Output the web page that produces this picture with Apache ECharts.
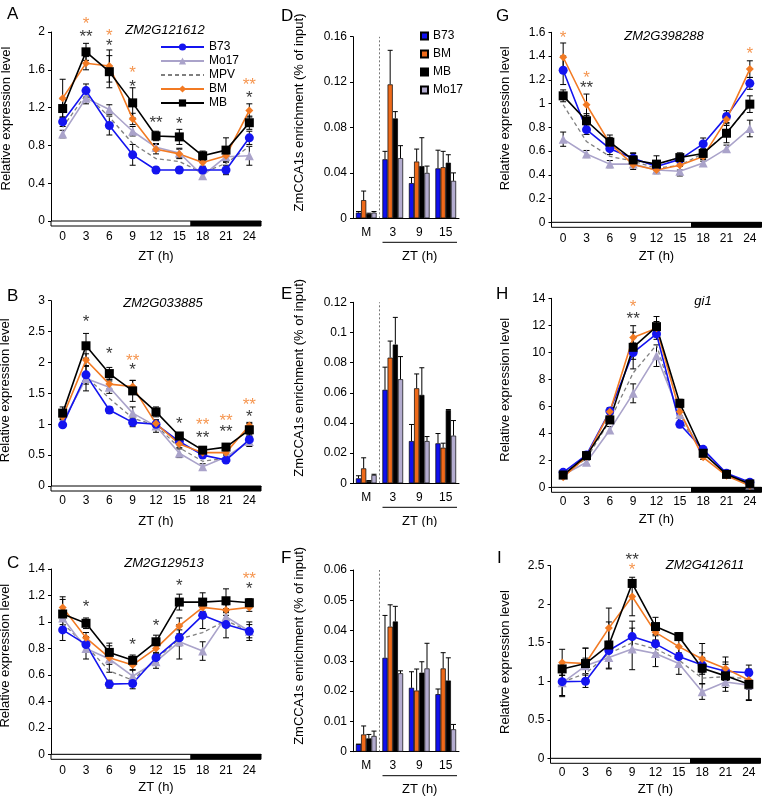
<!DOCTYPE html>
<html>
<head>
<meta charset="utf-8">
<script src="https://cdn.jsdelivr.net/npm/echarts@6/dist/echarts.min.js"></script>
<style>
  body { margin: 0; background: #fff; }
  #wrap { position: relative; width: 764px; height: 797px; }
  .panel { position: absolute; }
</style>
</head>
<body>
<div id="wrap">
  <div class="panel" id="pA" style="left:0;top:0;width:262px;height:265px"></div>
  <div class="panel" id="pB" style="left:0;top:265px;width:262px;height:262px"></div>
  <div class="panel" id="pC" style="left:0;top:527px;width:262px;height:270px"></div>
  <div class="panel" id="pD" style="left:262px;top:0;width:226px;height:265px"></div>
  <div class="panel" id="pE" style="left:262px;top:265px;width:226px;height:262px"></div>
  <div class="panel" id="pF" style="left:262px;top:527px;width:226px;height:270px"></div>
  <div class="panel" id="pG" style="left:488px;top:0;width:276px;height:265px"></div>
  <div class="panel" id="pH" style="left:488px;top:265px;width:276px;height:262px"></div>
  <div class="panel" id="pI" style="left:488px;top:527px;width:276px;height:270px"></div>
</div>
<script>
// ---- data ----
const hours = ['0', '3', '6', '9', '12', '15', '18', '21', '24'];
const chipCats = ['M', '3', '9', '15'];
// light / dark period along ZT (start, end, dark?)
const dayNight = [[-1.5, 16.5, 0], [16.5, 25.5, 1]];

// A  ZM2G121612
const aB73 = [1.05, 1.38, 1.01, 0.70, 0.54, 0.54, 0.54, 0.54, 0.88];
const aB73Err = [0.05, 0.07, 0.10, 0.11, 0.03, 0.03, 0.03, 0.05, 0.07];
const aMo17 = [0.92, 1.30, 1.18, 0.95, 0.78, 0.72, 0.48, 0.68, 0.69];
const aMo17Err = [0.04, 0.06, 0.05, 0.05, 0.04, 0.05, 0.04, 0.05, 0.10];
const aMPV = [0.99, 1.34, 1.10, 0.82, 0.66, 0.63, 0.51, 0.61, 0.79];
const aBM = [1.30, 1.67, 1.64, 1.08, 0.76, 0.71, 0.62, 0.69, 1.17];
const aBMErr = [0.20, 0.07, 0.17, 0.06, 0.05, 0.05, 0.04, 0.05, 0.07];
const aMB = [1.19, 1.79, 1.58, 1.25, 0.90, 0.89, 0.69, 0.75, 1.04];
const aMBErr = [0.10, 0.09, 0.17, 0.16, 0.05, 0.08, 0.05, 0.13, 0.07];
const aStars = [['3', 2.12, '*', 'o'], ['3', 1.99, '**', 'k'], ['6', 2.0, '*', 'o'], ['6', 1.89, '*', 'k'],
  ['9', 1.60, '*', 'o'], ['9', 1.46, '*', 'k'], ['12', 1.08, '**', 'k'], ['15', 1.07, '*', 'k'],
  ['24', 1.48, '**', 'o'], ['24', 1.34, '*', 'k']];

// B  ZM2G033885
const bB73 = [0.99, 1.80, 1.23, 1.03, 1.00, 0.72, 0.50, 0.42, 0.75];
const bB73Err = [0.04, 0.15, 0.05, 0.07, 0.05, 0.05, 0.04, 0.04, 0.08];
const bMo17 = [1.04, 1.74, 1.60, 1.18, 0.97, 0.53, 0.31, 0.47, 0.72];
const bMo17Err = [0.05, 0.20, 0.10, 0.10, 0.10, 0.07, 0.05, 0.05, 0.08];
const bMPV = [1.01, 1.77, 1.42, 1.10, 0.98, 0.62, 0.40, 0.45, 0.73];
const bBM = [1.12, 2.04, 1.65, 1.61, 1.01, 0.68, 0.54, 0.54, 0.98];
const bBMErr = [0.05, 0.10, 0.08, 0.10, 0.06, 0.06, 0.04, 0.04, 0.05];
const bMB = [1.18, 2.27, 1.82, 1.54, 1.20, 0.81, 0.58, 0.63, 0.91];
const bMBErr = [0.10, 0.20, 0.10, 0.17, 0.08, 0.05, 0.05, 0.05, 0.10];
const bStars = [['3', 2.71, '*', 'k'], ['6', 2.2, '*', 'k'], ['9', 2.09, '**', 'o'], ['9', 1.93, '*', 'k'],
  ['15', 1.07, '*', 'k'], ['18', 1.04, '**', 'o'], ['18', 0.84, '**', 'k'], ['21', 1.12, '**', 'o'],
  ['21', 0.93, '**', 'k'], ['24', 1.37, '**', 'o'], ['24', 1.18, '*', 'k']];

// C  ZM2G129513
const cB73 = [0.94, 0.83, 0.53, 0.535, 0.73, 0.88, 1.05, 0.98, 0.93];
const cB73Err = [0.08, 0.06, 0.03, 0.04, 0.04, 0.06, 0.10, 0.10, 0.07];
const cMo17 = [1.03, 0.80, 0.72, 0.59, 0.70, 0.85, 0.78, 1.04, 0.93];
const cMo17Err = [0.05, 0.08, 0.10, 0.05, 0.05, 0.13, 0.07, 0.06, 0.05];
const cMPV = [0.99, 0.82, 0.63, 0.56, 0.72, 0.87, 0.92, 1.01, 0.93];
const cBM = [1.11, 0.88, 0.73, 0.675, 0.80, 0.97, 1.11, 1.09, 1.11];
const cBMErr = [0.06, 0.04, 0.05, 0.04, 0.04, 0.06, 0.05, 0.04, 0.03];
const cMB = [1.06, 0.99, 0.77, 0.71, 0.85, 1.15, 1.15, 1.16, 1.145];
const cMBErr = [0.13, 0.04, 0.07, 0.04, 0.05, 0.06, 0.07, 0.09, 0.03];
const cStars = [['3', 1.14, '*', 'k'], ['9', 0.856, '*', 'k'], ['12', 1.0, '*', 'k'], ['15', 1.30, '*', 'k'],
  ['24', 1.355, '**', 'o'], ['24', 1.28, '*', 'k']];

// G  ZM2G398288
const gB73 = [1.28, 0.78, 0.62, 0.54, 0.47, 0.53, 0.66, 0.89, 1.17];
const gB73Err = [0.12, 0.04, 0.05, 0.04, 0.03, 0.03, 0.05, 0.05, 0.05];
const gMo17 = [0.70, 0.575, 0.49, 0.49, 0.44, 0.43, 0.50, 0.62, 0.79];
const gMo17Err = [0.06, 0.03, 0.03, 0.03, 0.03, 0.04, 0.03, 0.03, 0.07];
const gMPV = [0.99, 0.68, 0.555, 0.515, 0.455, 0.48, 0.58, 0.755, 0.98];
const gBM = [1.39, 0.99, 0.665, 0.485, 0.44, 0.48, 0.555, 0.865, 1.29];
const gBMErr = [0.12, 0.09, 0.05, 0.04, 0.03, 0.04, 0.04, 0.05, 0.07];
const gMB = [1.065, 0.855, 0.675, 0.525, 0.49, 0.545, 0.58, 0.75, 0.995];
const gMBErr = [0.05, 0.06, 0.06, 0.06, 0.07, 0.04, 0.04, 0.08, 0.07];
const gStars = [['0', 1.58, '*', 'o'], ['3', 1.25, '*', 'o'], ['3', 1.165, '**', 'k'], ['24', 1.445, '*', 'o']];

// H  gi1
const hB73 = [1.11, 2.40, 5.65, 9.98, 11.36, 4.67, 2.81, 1.04, 0.37];
const hB73Err = [0.10, 0.15, 0.20, 0.50, 0.40, 0.25, 0.15, 0.10, 0.05];
const hMo17 = [0.91, 1.85, 4.25, 6.96, 9.75, 5.40, 2.57, 0.96, 0.17];
const hMo17Err = [0.10, 0.15, 0.25, 0.70, 0.80, 0.30, 0.15, 0.10, 0.05];
const hMPV = [1.01, 2.12, 4.95, 8.47, 10.55, 5.03, 2.69, 1.00, 0.27];
const hBM = [0.75, 2.27, 5.60, 11.09, 11.78, 5.60, 2.22, 0.86, 0.12];
const hBMErr = [0.10, 0.15, 0.30, 0.40, 0.50, 0.30, 0.15, 0.10, 0.05];
const hMB = [0.91, 2.35, 4.99, 10.37, 11.90, 6.22, 2.52, 0.96, 0.25];
const hMBErr = [0.10, 0.15, 0.25, 1.60, 0.75, 0.30, 0.15, 0.10, 0.05];
const hStars = [['9', 13.6, '*', 'o'], ['9', 12.77, '**', 'k']];

// I  ZM2G412611
const iB73 = [0.995, 1.00, 1.40, 1.58, 1.485, 1.32, 1.21, 1.13, 1.11];
const iB73Err = [0.18, 0.08, 0.12, 0.20, 0.12, 0.12, 0.10, 0.12, 0.10];
const iMo17 = [0.98, 1.20, 1.31, 1.42, 1.36, 1.23, 0.865, 0.99, 0.95];
const iMo17Err = [0.18, 0.10, 0.15, 0.27, 0.17, 0.14, 0.10, 0.12, 0.20];
const iMPV = [0.99, 1.10, 1.36, 1.50, 1.42, 1.275, 1.04, 1.06, 1.03];
const iBM = [1.245, 1.23, 1.69, 2.10, 1.635, 1.45, 1.29, 1.165, 1.015];
const iBMErr = [0.17, 0.20, 0.26, 0.25, 0.10, 0.10, 0.20, 0.15, 0.12];
const iMB = [1.16, 1.23, 1.47, 2.27, 1.71, 1.58, 1.17, 1.07, 0.96];
const iMBErr = [0.08, 0.20, 0.30, 0.05, 0.12, 0.05, 0.20, 0.15, 0.20];
const iStars = [['9', 2.62, '**', 'k'], ['9', 2.49, '*', 'o']];

// D / E / F  ChIP enrichment, groups M, ZT3, ZT9, ZT15
const dB73 = [0.005, 0.052, 0.031, 0.044];
const dB73Err = [0.001, 0.007, 0.005, 0.016];
const dBM = [0.016, 0.118, 0.050, 0.045];
const dBMErr = [0.008, 0.030, 0.011, 0.014];
const dMB = [0.004, 0.088, 0.046, 0.049];
const dMBErr = [0.0005, 0.006, 0.025, 0.007];
const dMo17 = [0.005, 0.053, 0.040, 0.033];
const dMo17Err = [0.001, 0.011, 0.006, 0.007];

const eB73 = [0.0033, 0.062, 0.028, 0.0265];
const eB73Err = [0.0017, 0.015, 0.011, 0.0065];
const eBM = [0.0099, 0.0833, 0.063, 0.0236];
const eBMErr = [0.007, 0.011, 0.0095, 0.003];
const eMB = [0.0015, 0.092, 0.0586, 0.0486];
const eMBErr = [0.0003, 0.018, 0.018, 0.0003];
const eMo17 = [0.0055, 0.069, 0.028, 0.0316];
const eMo17Err = [0.0005, 0.015, 0.003, 0.010];

const fB73 = [0.0025, 0.031, 0.0211, 0.019];
const fB73Err = [0, 0.014, 0.0053, 0.0017];
const fBM = [0.0057, 0.0413, 0.0202, 0.0275];
const fBMErr = [0.0028, 0.0072, 0.0071, 0.0052];
const fMB = [0.0044, 0.043, 0.0261, 0.0235];
const fMBErr = [0.0013, 0.005, 0.0036, 0.0075];
const fMo17 = [0.0052, 0.0259, 0.0275, 0.0074];
const fMo17Err = [0.0016, 0.0008, 0.0083, 0.0016];

// ---- style ----
const FONT = 'Liberation Sans, Arial, sans-serif';
const colors = { B73: '#1414f0', Mo17: '#aaa3ca', MPV: '#7f7f7f', BM: '#f27a23', MB: '#000000' };
const starColors = { o: '#f27a23', k: '#000000' };
const symbols = { B73: ['circle', 9], Mo17: ['triangle', 9], BM: ['diamond', 8], MB: ['rect', 9] };
const barColors = { B73: '#1010ee', BM: '#ee6a1a', MB: '#000000', Mo17: '#b3accf' };

function lineErrRender(params, api) {
  const x = api.value(0), v = api.value(1), e = api.value(2);
  const top = api.coord([x, v + e]);
  const bot = api.coord([x, Math.max(v - e, 0)]);
  const w = 3;
  const st = { stroke: '#000', lineWidth: 1 };
  return {
    type: 'group', children: [
      { type: 'line', shape: { x1: top[0], y1: top[1], x2: bot[0], y2: bot[1] }, style: st },
      { type: 'line', shape: { x1: top[0] - w, y1: top[1], x2: top[0] + w, y2: top[1] }, style: st },
      { type: 'line', shape: { x1: bot[0] - w, y1: bot[1], x2: bot[0] + w, y2: bot[1] }, style: st }
    ]
  };
}

function stripRender(params, api) {
  const p0 = api.coord([api.value(0), 1]);
  const p1 = api.coord([api.value(1), 0]);
  return {
    type: 'rect',
    shape: { x: p0[0], y: p0[1], width: p1[0] - p0[0], height: p1[1] - p0[1] },
    style: { fill: api.value(2) ? '#000' : '#fff', stroke: '#000', lineWidth: 1 }
  };
}

function makeLine(id, p) {
  const chart = echarts.init(document.getElementById(id));
  const g = p.grid;
  const series = [];
  const order = ['Mo17', 'B73', 'BM', 'MB'];
  order.forEach(k => {
    series.push({
      type: 'custom', name: k + ' error', renderItem: lineErrRender, z: 2,
      xAxisIndex: 0, yAxisIndex: 0, encode: { x: 0, y: 1 },
      data: p[k].map((v, i) => [i, v, p[k + 'Err'][i]])
    });
  });
  series.push({
    type: 'line', name: 'MPV', data: p.MPV, symbol: 'none', z: 3,
    lineStyle: { color: colors.MPV, type: [4, 3], width: 1.3 }, itemStyle: { color: colors.MPV }
  });
  order.forEach(k => {
    series.push({
      type: 'line', name: k, data: p[k], z: 4,
      symbol: symbols[k][0], symbolSize: symbols[k][1],
      lineStyle: { color: colors[k], width: 1.6 }, itemStyle: { color: colors[k] }
    });
  });
  series.push({
    type: 'scatter', name: 'significance', symbolSize: 0, clip: false, z: 5,
    data: p.stars.map(s => ({
      value: [hours.indexOf(s[0]), s[1]],
      label: { show: true, formatter: s[2], color: starColors[s[3]], fontSize: 17, offset: [0, 4], fontFamily: FONT }
    }))
  });
  series.push({
    type: 'custom', name: 'light/dark', renderItem: stripRender, xAxisIndex: 1, yAxisIndex: 1,
    encode: { x: [0, 1] }, data: dayNight
  });

  const option = {
    animation: false,
    textStyle: { fontFamily: FONT, color: '#000' },
    title: [
      { text: p.letter, left: p.letterPos[0], top: p.letterPos[1], textStyle: { fontSize: 17, fontWeight: 'normal', color: '#000', fontFamily: FONT } },
      { text: p.title, left: p.titlePos[0], top: p.titlePos[1], textAlign: 'center', textStyle: { fontSize: 13, fontStyle: 'italic', fontWeight: 'normal', color: '#000', fontFamily: FONT } }
    ],
    grid: [
      { left: g[0], top: g[1], width: g[2], height: g[3], outerBoundsMode: 'none', containLabel: false },
      { left: g[0], top: g[1] + g[3], width: g[2], height: 5, outerBoundsMode: 'none', containLabel: false }
    ],
    xAxis: [
      {
        type: 'category', data: hours, gridIndex: 0,
        name: 'ZT (h)', nameLocation: 'middle', nameGap: p.xNameGap,
        nameTextStyle: { fontSize: 13, color: '#000' },
        axisLine: { lineStyle: { color: '#000', width: 1 } },
        axisTick: { inside: true, length: 3, lineStyle: { color: '#000' } },
        axisLabel: { fontSize: 12, color: '#000', margin: p.xMargin }
      },
      { type: 'value', gridIndex: 1, min: -1.5, max: 25.5, show: false }
    ],
    yAxis: [
      {
        type: 'value', gridIndex: 0, min: 0, max: p.yMax, interval: p.yStep,
        name: 'Relative expression level', nameLocation: 'middle', nameGap: p.nameGap,
        nameTextStyle: { fontSize: 13, color: '#000', padding: [0, 0, 0, p.nameShift] },
        axisLine: { show: true, lineStyle: { color: '#000', width: 1 } },
        axisTick: { show: true, length: 3, lineStyle: { color: '#000' } },
        axisLabel: { fontSize: 12, color: '#000', margin: 6 },
        splitLine: { show: false }
      },
      { type: 'value', gridIndex: 1, min: 0, max: 1, show: false }
    ],
    series: series
  };
  if (p.legend) {
    option.legend = {
      orient: 'vertical', left: 155, top: 36, itemWidth: 43, itemHeight: 9, itemGap: 2,
      data: ['B73', 'Mo17', { name: 'MPV', itemStyle: { opacity: 0 } }, 'BM', 'MB'],
      textStyle: { fontSize: 12, color: '#000', fontFamily: FONT }
    };
  }
  chart.setOption(option);
}

function barErrRender(params, api) {
  const cat = api.value(0), v = api.value(1), e = api.value(2), k = api.value(3);
  const base = api.coord([cat, v]);
  const top = api.coord([cat, v + e]);
  const catW = api.size([1, 0])[0];
  const groupW = catW * 0.78;
  const barW = groupW / 4;
  const cx = base[0] - groupW / 2 + barW * (k + 0.5);
  const st = { stroke: '#000', lineWidth: 1 };
  return {
    type: 'group', children: [
      { type: 'line', shape: { x1: cx, y1: base[1], x2: cx, y2: top[1] }, style: st },
      { type: 'line', shape: { x1: cx - 2.5, y1: top[1], x2: cx + 2.5, y2: top[1] }, style: st }
    ]
  };
}

function makeBar(id, p) {
  const chart = echarts.init(document.getElementById(id));
  const g = p.grid;
  const keys = ['B73', 'BM', 'MB', 'Mo17'];
  const series = [];
  keys.forEach((k, idx) => {
    series.push({
      type: 'bar', name: k, data: p[k], barGap: '0%', barCategoryGap: '22%',
      itemStyle: { color: barColors[k], borderColor: '#000', borderWidth: 0.7 }
    });
  });
  const errData = [];
  keys.forEach((k, idx) => {
    p[k].forEach((v, i) => errData.push([i, v, p[k + 'Err'][i], idx]));
  });
  series.push({ type: 'custom', name: 'error', renderItem: barErrRender, encode: { x: 0, y: 1 }, data: errData, z: 3 });
  // divider between mock (M) and ZT samples, at category boundary 1
  series.push({
    type: 'line', name: 'divider', xAxisIndex: 1, symbol: 'none', silent: true,
    data: [[1, 0], [1, p.yMax]], lineStyle: { color: '#555', width: 0.8, type: [2, 2] }
  });
  const lineY = g[1] + g[3] + 24;
  const x1 = g[0] + g[2] / 4 + 3, x2 = g[0] + g[2] - 2;
  const option = {
    animation: false,
    textStyle: { fontFamily: FONT, color: '#000' },
    title: [
      { text: p.letter, left: p.letterPos[0], top: p.letterPos[1], textStyle: { fontSize: 17, fontWeight: 'normal', color: '#000', fontFamily: FONT } }
    ],
    grid: { left: g[0], top: g[1], width: g[2], height: g[3], outerBoundsMode: 'none', containLabel: false },
    xAxis: [
      {
        type: 'category', data: chipCats,
        axisLine: { lineStyle: { color: '#000', width: 1 } },
        axisTick: { show: false },
        axisLabel: { fontSize: 12, color: '#000', margin: 8 }
      },
      { type: 'value', min: 0, max: 4, show: false }
    ],
    yAxis: {
      type: 'value', min: 0, max: p.yMax, interval: p.yStep,
      name: 'ZmCCA1s enrichment (% of input)', nameLocation: 'middle', nameGap: p.nameGap,
      nameTextStyle: { fontSize: 13, color: '#000', padding: [0, 0, 0, p.nameShift] },
      axisLine: { show: true, lineStyle: { color: '#000', width: 1 } },
      axisTick: { show: true, length: 3, lineStyle: { color: '#000' } },
      axisLabel: { fontSize: 12, color: '#000', margin: 6 },
      splitLine: { show: false }
    },
    graphic: [
      { type: 'line', shape: { x1: x1, y1: lineY, x2: x2, y2: lineY }, style: { stroke: '#000', lineWidth: 1 } },
      { type: 'text', x: (x1 + x2) / 2, y: lineY + 14, style: { text: 'ZT (h)', fontSize: 13, fontFamily: FONT, fill: '#000', align: 'center', verticalAlign: 'middle' } }
    ],
    series: series
  };
  if (p.legend) {
    option.legend = {
      orient: 'vertical', left: 153, top: 25, itemWidth: 7, itemHeight: 7, itemGap: 6,
      icon: 'rect', data: keys,
      textStyle: { fontSize: 12, color: '#000', fontFamily: FONT }
    };
  }
  chart.setOption(option);
}

makeLine('pA', {
  letter: 'A', letterPos: [2, 1], title: 'ZM2G121612', titlePos: [160, 19],
  grid: [51, 32, 210, 189], yMax: 2, yStep: 0.4, nameGap: 38, nameShift: 16, legend: true,
  xNameGap: 29, xMargin: 10,
  B73: aB73, B73Err: aB73Err, Mo17: aMo17, Mo17Err: aMo17Err, MPV: aMPV,
  BM: aBM, BMErr: aBMErr, MB: aMB, MBErr: aMBErr, stars: aStars
});
makeLine('pB', {
  letter: 'B', letterPos: [2, 18], title: 'ZM2G033885', titlePos: [158, 27],
  grid: [51, 35.7, 210, 185.3], yMax: 3, yStep: 0.5, nameGap: 39, nameShift: 6,
  xNameGap: 29, xMargin: 9,
  B73: bB73, B73Err: bB73Err, Mo17: bMo17, Mo17Err: bMo17Err, MPV: bMPV,
  BM: bBM, BMErr: bBMErr, MB: bMB, MBErr: bMBErr, stars: bStars
});
makeLine('pC', {
  letter: 'C', letterPos: [2, 23], title: 'ZM2G129513', titlePos: [159, 25],
  grid: [51, 42, 210, 185.3], yMax: 1.4, yStep: 0.2, nameGap: 39, nameShift: 12,
  xNameGap: 27, xMargin: 10,
  B73: cB73, B73Err: cB73Err, Mo17: cMo17, Mo17Err: cMo17Err, MPV: cMPV,
  BM: cBM, BMErr: cBMErr, MB: cMB, MBErr: cMBErr, stars: cStars
});
makeBar('pD', {
  letter: 'D', letterPos: [14, 3], grid: [91, 36.7, 106, 181.6], yMax: 0.16, yStep: 0.04, nameGap: 47, nameShift: 30, legend: true,
  B73: dB73, B73Err: dB73Err, BM: dBM, BMErr: dBMErr, MB: dMB, MBErr: dMBErr, Mo17: dMo17, Mo17Err: dMo17Err
});
makeBar('pE', {
  letter: 'E', letterPos: [14, 16], grid: [91, 37.3, 106, 181], yMax: 0.12, yStep: 0.02, nameGap: 47, nameShift: 30,
  B73: eB73, B73Err: eB73Err, BM: eBM, BMErr: eBMErr, MB: eMB, MBErr: eMBErr, Mo17: eMo17, Mo17Err: eMo17Err
});
makeBar('pF', {
  letter: 'F', letterPos: [14, 18], grid: [91, 43, 106, 181.7], yMax: 0.06, yStep: 0.01, nameGap: 47, nameShift: 30,
  B73: fB73, B73Err: fB73Err, BM: fBM, BMErr: fBMErr, MB: fMB, MBErr: fMBErr, Mo17: fMo17, Mo17Err: fMo17Err
});
makeLine('pG', {
  letter: 'G', letterPos: [3, 3], title: 'ZM2G398288', titlePos: [171, 25],
  grid: [63.5, 32.3, 210, 190], yMax: 1.6, yStep: 0.2, nameGap: 40, nameShift: 18,
  xNameGap: 28, xMargin: 10,
  B73: gB73, B73Err: gB73Err, Mo17: gMo17, Mo17Err: gMo17Err, MPV: gMPV,
  BM: gBM, BMErr: gBMErr, MB: gMB, MBErr: gMBErr, stars: gStars
});
makeLine('pH', {
  letter: 'H', letterPos: [3, 16], title: 'gi1', titlePos: [210, 25],
  grid: [63.5, 33.3, 210, 189], yMax: 14, yStep: 2, nameGap: 40, nameShift: 6,
  xNameGap: 26, xMargin: 8,
  B73: hB73, B73Err: hB73Err, Mo17: hMo17, Mo17Err: hMo17Err, MPV: hMPV,
  BM: hBM, BMErr: hBMErr, MB: hMB, MBErr: hMBErr, stars: hStars
});
makeLine('pI', {
  letter: 'I', letterPos: [4, 18], title: 'ZM2G412611', titlePos: [212, 27],
  grid: [62.5, 38.7, 210, 192.6], yMax: 2.5, yStep: 0.5, nameGap: 39, nameShift: 0,
  xNameGap: 25, xMargin: 8,
  B73: iB73, B73Err: iB73Err, Mo17: iMo17, Mo17Err: iMo17Err, MPV: iMPV,
  BM: iBM, BMErr: iBMErr, MB: iMB, MBErr: iMBErr, stars: iStars
});
</script>
</body>
</html>
